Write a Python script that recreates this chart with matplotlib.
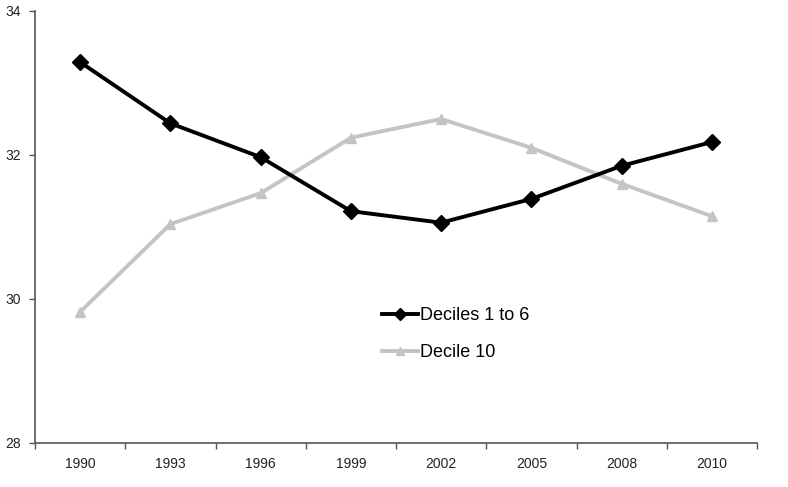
import matplotlib
matplotlib.use('Agg')
import matplotlib.pyplot as plt

plt.rcParams['font.family'] = ['Liberation Sans', 'DejaVu Sans']

years = ['1990', '1993', '1996', '1999', '2002', '2005', '2008', '2010']
deciles_1_6 = [33.29, 32.44, 31.97, 31.22, 31.06, 31.39, 31.85, 32.18]
decile_10 = [29.82, 31.04, 31.47, 32.24, 32.50, 32.10, 31.60, 31.15]

fig = plt.figure(figsize=(7.88, 4.87), dpi=100)
ax = fig.add_axes([35 / 788, 1 - 443 / 487, 722 / 788, 432 / 487])

x = list(range(len(years)))
ax.plot(x, deciles_1_6, color='black', lw=2.8, marker='D', markersize=8,
        label='Deciles 1 to 6', zorder=3)
ax.plot(x, decile_10, color='#c4c4c4', lw=2.8, marker='^', markersize=7,
        label='Decile 10', zorder=2)

ax.set_xlim(-0.5, len(years) - 0.5)
ax.set_ylim(28, 34)
ax.set_yticks([28, 30, 32, 34])
ax.set_xticks(x)
ax.set_xticklabels(years)
ax.set_xticks([i - 0.5 for i in range(len(years) + 1)], minor=True)
ax.tick_params(axis='x', which='major', length=0, labelsize=10, pad=10)
ax.tick_params(axis='x', which='minor', length=4, width=1, direction='out', color='#555555')
ax.tick_params(axis='y', length=4, width=1, direction='out', labelsize=10, color='#555555', pad=6)
ax.tick_params(axis='both', labelcolor='#222222')

for s in ['top', 'right']:
    ax.spines[s].set_visible(False)
for s in ['left', 'bottom']:
    ax.spines[s].set_color('#555555')
    ax.spines[s].set_linewidth(1.2)

fig.legend(loc='upper left', bbox_to_anchor=(382 / 788, 1 - 307 / 487),
           frameon=False, fontsize=13, handlelength=2.0, handletextpad=0.1,
           borderpad=0, borderaxespad=0, labelspacing=1.1, markerscale=0.8)

fig.savefig('out.png', dpi=100)
